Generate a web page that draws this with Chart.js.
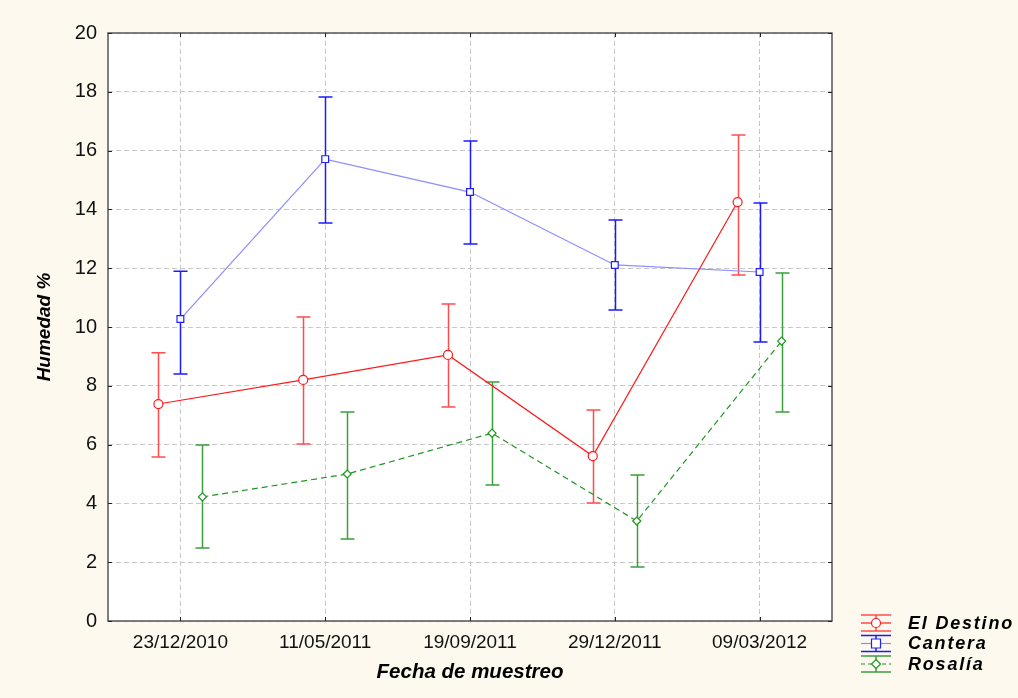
<!DOCTYPE html>
<html>
<head>
<meta charset="utf-8">
<script src="https://cdn.jsdelivr.net/npm/chart.js@4"></script>
<style>
  html, body { margin: 0; padding: 0; background: #fdf9ee; }
  #wrap { width: 1018px; height: 698px; }
</style>
</head>
<body>
<div id="wrap"><canvas id="c" width="1018" height="698"></canvas></div>
<script>
// Sampling dates (x axis categories)
const categories = ['23/12/2010', '11/05/2011', '19/09/2011', '29/12/2011', '09/03/2012'];

// Humedad % : means and interval limits per site
const destinoMean = [7.38, 8.20, 9.05, 5.61, 14.25];
const destinoLow  = [5.58, 6.02, 7.28, 4.01, 11.77];
const destinoHigh = [9.12, 10.34, 10.78, 7.18, 16.53];

const canteraMean = [10.27, 15.71, 14.59, 12.11, 11.87];
const canteraLow  = [8.40, 13.54, 12.82, 10.58, 9.49];
const canteraHigh = [11.90, 17.82, 16.33, 13.64, 14.22];

const rosaliaMean = [4.22, 5.00, 6.39, 3.40, 9.52];
const rosaliaLow  = [2.48, 2.79, 4.63, 1.84, 7.11];
const rosaliaHigh = [5.99, 7.11, 8.13, 4.97, 11.84];

const yTicks = [0, 2, 4, 6, 8, 10, 12, 14, 16, 18, 20];

const FONT = '"Liberation Sans", Arial, sans-serif';

// horizontal dodge of each series around its category
const DODGE = 0.152;

const series = [
  { name: 'El Destino', mean: destinoMean, low: destinoLow, high: destinoHigh, shift: -DODGE,
    line: '#ff1a1a', marker: '#ff1a1a', bar: '#ff4d4d', point: 'circle', radius: 4.5, dash: [] },
  { name: 'Cantera', mean: canteraMean, low: canteraLow, high: canteraHigh, shift: 0,
    line: '#8c8cff', marker: '#2020ff', bar: '#1a1aff', point: 'rect', radius: 4.8, dash: [] },
  { name: 'Rosalía', mean: rosaliaMean, low: rosaliaLow, high: rosaliaHigh, shift: DODGE,
    line: '#1e961e', marker: '#1e961e', bar: '#3c9f3c', point: 'rectRot', radius: 4, dash: [6, 4] }
];

const datasets = series.map(s => ({
  label: s.name,
  data: s.mean.map((v, i) => ({ x: i + s.shift, y: v })),
  borderColor: s.line,
  borderWidth: 1.2,
  borderDash: s.dash,
  pointStyle: s.point,
  pointRadius: s.radius,
  pointBorderColor: s.marker,
  pointBackgroundColor: '#ffffff',
  pointBorderWidth: 1.2,
  tension: 0,
  fill: false
}));

// whole-canvas and plot-area backgrounds
const backgrounds = {
  id: 'backgrounds',
  beforeDraw(chart) {
    const { ctx, chartArea: a } = chart;
    ctx.save();
    ctx.fillStyle = '#fdf9ee';
    ctx.fillRect(0, 0, chart.width, chart.height);
    ctx.fillStyle = '#ffffff';
    ctx.fillRect(a.left, a.top, a.right - a.left, a.bottom - a.top);
    ctx.restore();
  }
};

// vertical interval bars with caps, under the lines and markers
const errorBars = {
  id: 'errorBars',
  beforeDatasetsDraw(chart) {
    const { ctx, scales: { x, y } } = chart;
    ctx.save();
    ctx.lineWidth = 1.5;
    series.forEach(s => {
      ctx.strokeStyle = s.bar;
      s.mean.forEach((m, i) => {
        const px = Math.round(x.getPixelForValue(i + s.shift)) + 0.5;
        const yl = y.getPixelForValue(s.low[i]);
        const yh = y.getPixelForValue(s.high[i]);
        ctx.beginPath();
        ctx.moveTo(px, yh); ctx.lineTo(px, yl);
        ctx.moveTo(px - 7, yh); ctx.lineTo(px + 7, yh);
        ctx.moveTo(px - 7, yl); ctx.lineTo(px + 7, yl);
        ctx.stroke();
      });
    });
    ctx.restore();
  }
};

// plot frame with inward tick marks, and the legend block
const frameAndLegend = {
  id: 'frameAndLegend',
  afterDraw(chart) {
    const { ctx, chartArea: a, scales: { x, y } } = chart;
    ctx.save();
    ctx.strokeStyle = '#555555';
    ctx.lineWidth = 1.5;
    ctx.strokeRect(a.left, a.top, a.right - a.left, a.bottom - a.top);
    ctx.strokeStyle = '#222222';
    ctx.lineWidth = 1;
    ctx.beginPath();
    x.ticks.forEach(t => {
      const px = Math.round(x.getPixelForValue(t.value)) + 0.5;
      ctx.moveTo(px, a.bottom); ctx.lineTo(px, a.bottom - 4);
      ctx.moveTo(px, a.top); ctx.lineTo(px, a.top + 4);
    });
    y.ticks.forEach(t => {
      const py = Math.round(y.getPixelForValue(t.value)) + 0.5;
      ctx.moveTo(a.left, py); ctx.lineTo(a.left + 4, py);
      ctx.moveTo(a.right, py); ctx.lineTo(a.right - 4, py);
    });
    ctx.stroke();

    // legend
    const gx = 876, x0 = 861, x1 = 891, tx = 908;
    const rows = [623, 643.5, 664];
    series.forEach((s, k) => {
      const cy = rows[k];
      ctx.lineWidth = 1.5;
      ctx.setLineDash([]);
      ctx.strokeStyle = s.bar;
      ctx.beginPath();
      ctx.moveTo(x0, cy - 8); ctx.lineTo(x1, cy - 8);
      ctx.moveTo(x0, cy + 8); ctx.lineTo(x1, cy + 8);
      ctx.moveTo(gx, cy - 8); ctx.lineTo(gx, cy + 8);
      ctx.stroke();
      ctx.lineWidth = 1.2;
      ctx.strokeStyle = s.line;
      ctx.setLineDash(s.dash.length ? [4, 3] : []);
      ctx.beginPath();
      ctx.moveTo(x0, cy); ctx.lineTo(x1, cy);
      ctx.stroke();
      ctx.setLineDash([]);
      ctx.fillStyle = '#ffffff';
      ctx.strokeStyle = s.marker;
      ctx.beginPath();
      if (s.point === 'circle') {
        ctx.arc(gx, cy, 4.5, 0, Math.PI * 2);
      } else if (s.point === 'rect') {
        ctx.rect(gx - 4.5, cy - 4.5, 9, 9);
      } else {
        ctx.moveTo(gx, cy - 4.5); ctx.lineTo(gx + 4.5, cy); ctx.lineTo(gx, cy + 4.5); ctx.lineTo(gx - 4.5, cy); ctx.closePath();
      }
      ctx.fill(); ctx.stroke();
      ctx.fillStyle = '#000000';
      ctx.font = 'italic bold 18px ' + FONT;
      if ('letterSpacing' in ctx) ctx.letterSpacing = '1.8px';
      ctx.textBaseline = 'middle';
      ctx.textAlign = 'left';
      ctx.fillText(s.name, tx, cy + 1);
      if ('letterSpacing' in ctx) ctx.letterSpacing = '0px';
    });
    ctx.restore();
  }
};

new Chart(document.getElementById('c'), {
  type: 'line',
  data: { datasets },
  plugins: [backgrounds, errorBars, frameAndLegend],
  options: {
    responsive: false,
    animation: false,
    layout: { padding: { left: 0, top: 33, right: 186, bottom: 0 } },
    plugins: { legend: { display: false }, tooltip: { enabled: false } },
    scales: {
      x: {
        type: 'linear',
        min: -0.5,
        max: 4.5,
        afterBuildTicks(scale) { scale.ticks = categories.map((c, i) => ({ value: i })); },
        afterFit(scale) { scale.height = 77; },
        ticks: {
          callback: v => categories[v] ?? '',
          font: { family: FONT, size: 19 },
          color: '#111111',
          padding: 10,
          maxRotation: 0,
          autoSkip: false
        },
        grid: { color: '#c8c8c8', lineWidth: 1, drawTicks: false },
        border: { display: false, dash: [5, 3] },
        title: {
          display: true,
          text: 'Fecha de muestreo',
          font: { family: FONT, size: 20.5, style: 'italic', weight: 'bold' },
          color: '#000000',
          padding: { top: 0, bottom: 13 }
        }
      },
      y: {
        min: 0,
        max: 20,
        afterBuildTicks(scale) { scale.ticks = yTicks.map(v => ({ value: v })); },
        afterFit(scale) { scale.width = 108; },
        ticks: {
          font: { family: FONT, size: 20 },
          color: '#111111',
          padding: 11
        },
        grid: { color: '#c8c8c8', lineWidth: 1, drawTicks: false },
        border: { display: false, dash: [5, 3] },
        title: {
          display: true,
          text: 'Humedad %',
          font: { family: FONT, size: 19, style: 'italic', weight: 'bold' },
          color: '#000000',
          padding: { top: 33, bottom: 0 }
        }
      }
    }
  }
});
</script>
</body>
</html>
